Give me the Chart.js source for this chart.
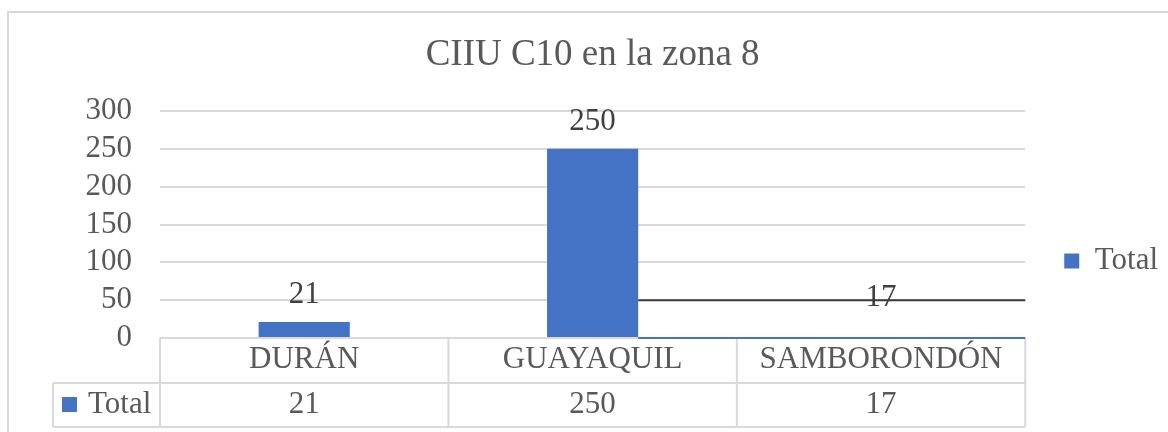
<!DOCTYPE html>
<html>
<head>
<meta charset="utf-8">
<script src="https://cdn.jsdelivr.net/npm/chart.js@4"></script>
<style>
  html, body { margin: 0; padding: 0; background: #fff; }
  #wrap { position: relative; width: 1168px; height: 432px; overflow: hidden; }
  #frame { position: absolute; left: 7px; top: 11px; width: 1200px; height: 500px;
           border-left: 2px solid #d9d9d9; border-top: 2px solid #d9d9d9; }
  canvas { position: absolute; left: 0; top: 0; }
</style>
</head>
<body>
<div id="wrap">
  <div id="frame"></div>
  <canvas id="chart" width="1168" height="432"></canvas>
</div>
<script>
const chartTitle = 'CIIU C10 en la zona 8';
const seriesName = 'Total';
const categories = ['DURÁN', 'GUAYAQUIL', 'SAMBORONDÓN'];
const totals = [21, 250, 17];
const yTicks = [0, 50, 100, 150, 200, 250, 300];

const BLUE = '#4472C4';
const GRID = '#d9d9d9';
const TEXT = '#595959';
const LABEL = '#404040';
const FONT = "'Liberation Serif', 'Times New Roman', serif";

function line(ctx, x1, y1, x2, y2) {
  ctx.beginPath();
  ctx.moveTo(x1, y1);
  ctx.lineTo(x2, y2);
  ctx.stroke();
}

// value labels above the bars
const valueLabels = {
  id: 'valueLabels',
  afterDatasetsDraw(chart) {
    const ctx = chart.ctx;
    const meta = chart.getDatasetMeta(0);
    ctx.save();
    ctx.fillStyle = LABEL;
    ctx.font = '31px ' + FONT;
    ctx.textAlign = 'center';
    ctx.textBaseline = 'alphabetic';
    meta.data.forEach((bar, i) => {
      ctx.fillText(String(totals[i]), bar.x, bar.y - 19);
    });
    ctx.restore();
  }
};

// data table under the x axis
const dataTable = {
  id: 'dataTable',
  afterDraw(chart) {
    const ctx = chart.ctx;
    const area = chart.chartArea;
    const x = chart.scales.x;
    const half = (x.getPixelForValue(1) - x.getPixelForValue(0)) / 2;
    const top = area.bottom;
    const mid = top + 45;
    const bot = top + 89;
    const left = area.left - 107;

    ctx.save();
    ctx.strokeStyle = GRID;
    ctx.lineWidth = 2;
    line(ctx, area.left, top, area.right, top);
    line(ctx, left, mid, area.right, mid);
    line(ctx, left, bot, area.right, bot);
    line(ctx, left, mid, left, bot);
    categories.forEach((c, i) => {
      const bx = x.getPixelForValue(i) - half;
      line(ctx, bx, top, bx, bot);
    });
    line(ctx, area.right, top, area.right, bot);

    // series row
    const rowY = (mid + bot) / 2;
    ctx.fillStyle = BLUE;
    ctx.fillRect(left + 9, rowY - 8, 15, 15);
    ctx.fillStyle = TEXT;
    ctx.font = '31px ' + FONT;
    ctx.textBaseline = 'middle';
    ctx.textAlign = 'left';
    ctx.fillText(seriesName, left + 35, rowY);
    ctx.textAlign = 'center';
    totals.forEach((v, i) => {
      ctx.fillText(String(v), x.getPixelForValue(i), rowY);
    });

    // stray marks seen in the source picture near the last category
    const meta = chart.getDatasetMeta(0);
    const prev = meta.data[1];
    const last = meta.data[2];
    const x0 = prev.x + prev.width / 2;
    ctx.strokeStyle = BLUE;
    line(ctx, x0, top, area.right, top);
    ctx.strokeStyle = '#3a3a3a';
    line(ctx, x0, last.y - 25, area.right, last.y - 25);
    ctx.restore();
  }
};

new Chart(document.getElementById('chart'), {
  type: 'bar',
  data: {
    labels: categories,
    datasets: [{
      label: seriesName,
      data: totals,
      backgroundColor: (c) => (c.dataIndex === 2 ? 'rgba(0,0,0,0)' : BLUE),
      borderWidth: 0,
      barPercentage: 0.316,
      categoryPercentage: 1
    }]
  },
  options: {
    responsive: false,
    animation: false,
    layout: { padding: 0 },
    scales: {
      x: {
        grid: { display: false, drawTicks: false },
        border: { display: false },
        ticks: { color: TEXT, font: { family: FONT, size: 31 }, padding: 3, autoSkip: false },
        afterFit: (s) => { s.height = 94; }
      },
      y: {
        min: 0,
        max: 300,
        afterBuildTicks: (s) => { s.ticks = yTicks.map(v => ({ value: v })); },
        grid: { color: GRID, lineWidth: 2, drawTicks: false },
        border: { display: false },
        ticks: { color: TEXT, font: { family: FONT, size: 31 }, padding: 28, autoSkip: false },
        afterFit: (s) => { s.width = 160; }
      }
    },
    plugins: {
      title: {
        display: true,
        text: chartTitle,
        fullSize: false,
        color: TEXT,
        font: { family: FONT, size: 37, weight: 'normal' },
        padding: { top: 33, bottom: 33.6 }
      },
      legend: {
        position: 'right',
        align: 'center',
        title: { display: true, text: '', font: { size: 40 }, padding: 21 },
        labels: {
          boxWidth: 15,
          boxHeight: 15,
          padding: 39,
          color: TEXT,
          font: { family: FONT, size: 31 }
        }
      },
      tooltip: { enabled: false }
    }
  },
  plugins: [valueLabels, dataTable]
});
</script>
</body>
</html>
